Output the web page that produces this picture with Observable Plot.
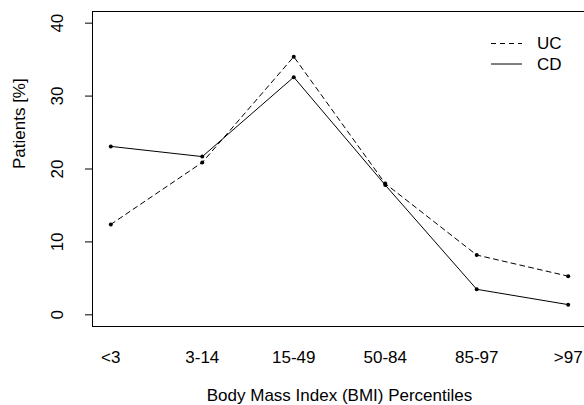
<!DOCTYPE html>
<html><head><meta charset="utf-8">
<script src="https://cdn.jsdelivr.net/npm/d3@7"></script>
<script src="https://cdn.jsdelivr.net/npm/@observablehq/plot@0.6"></script>
<style>
body{margin:0;background:#fff;}
#wrap{position:relative;width:584px;height:405px;overflow:hidden;background:#fff;}
#legend{position:absolute;left:0;top:0;}
</style></head><body><div id="wrap"></div>
<script>
const categories = ["<3", "3-14", "15-49", "50-84", "85-97", ">97"];
const ucValues = [12.4, 20.9, 35.4, 18.0, 8.2, 5.3];
const cdValues = [23.1, 21.7, 32.6, 17.8, 3.5, 1.4];
const yTicks = [0, 10, 20, 30, 40];
const seriesNames = ["UC", "CD"];
const xLabel = "Body Mass Index (BMI) Percentiles";
const yLabel = "Patients [%]";

const font = "'Liberation Sans', Arial, Helvetica, sans-serif";
const fs = 17;
const ucData = categories.map((c, i) => ({series: "UC", idx: i + 1, cat: c, value: ucValues[i]}));
const cdData = categories.map((c, i) => ({series: "CD", idx: i + 1, cat: c, value: cdValues[i]}));

const chart = Plot.plot({
  width: 584, height: 405,
  marginLeft: 92, marginTop: 11, marginBottom: 79, marginRight: -2,
  style: {fontFamily: font, fontSize: fs + "px", color: "black", background: "white", overflow: "hidden"},
  x: {domain: [0.8, 6.2]},
  y: {domain: [-1.6, 41.6]},
  marks: [
    Plot.frame({stroke: "black", strokeWidth: 1}),
    Plot.axisY(yTicks, {tickSize: 7, tickRotate: -90, tickPadding: 23, label: null, fontSize: fs}),
    Plot.axisX(categories.map((c, i) => i + 1), {tickSize: 0, tickPadding: 24, tickFormat: i => categories[i - 1], label: null, fontSize: fs}),
    Plot.text([yLabel], {frameAnchor: "left", dx: -73, rotate: -90, fontSize: fs}),
    Plot.text([xLabel], {frameAnchor: "bottom", dy: 74, fontSize: fs}),
    Plot.line(ucData, {x: "idx", y: "value", stroke: "black", strokeWidth: 1, strokeDasharray: "5,4"}),
    Plot.line(cdData, {x: "idx", y: "value", stroke: "black", strokeWidth: 1}),
    Plot.dot([...ucData, ...cdData], {x: "idx", y: "value", r: 2, fill: "black"})
  ]
});
const wrap = document.getElementById("wrap");
wrap.appendChild(chart);

// legend overlay
const leg = d3.select(wrap).append("svg").attr("id", "legend").attr("width", 584).attr("height", 405);
const legY = [43.5, 64];
seriesNames.forEach((name, i) => {
  leg.append("line").attr("x1", 491).attr("x2", 522).attr("y1", legY[i]).attr("y2", legY[i])
    .attr("stroke", "black").attr("stroke-width", 1)
    .attr("stroke-dasharray", i === 0 ? "5,4" : null);
  leg.append("text").attr("x", 537).attr("y", legY[i]).attr("dy", "0.35em")
    .attr("font-family", font).attr("font-size", fs).attr("fill", "black").text(name);
});
</script></body></html>
